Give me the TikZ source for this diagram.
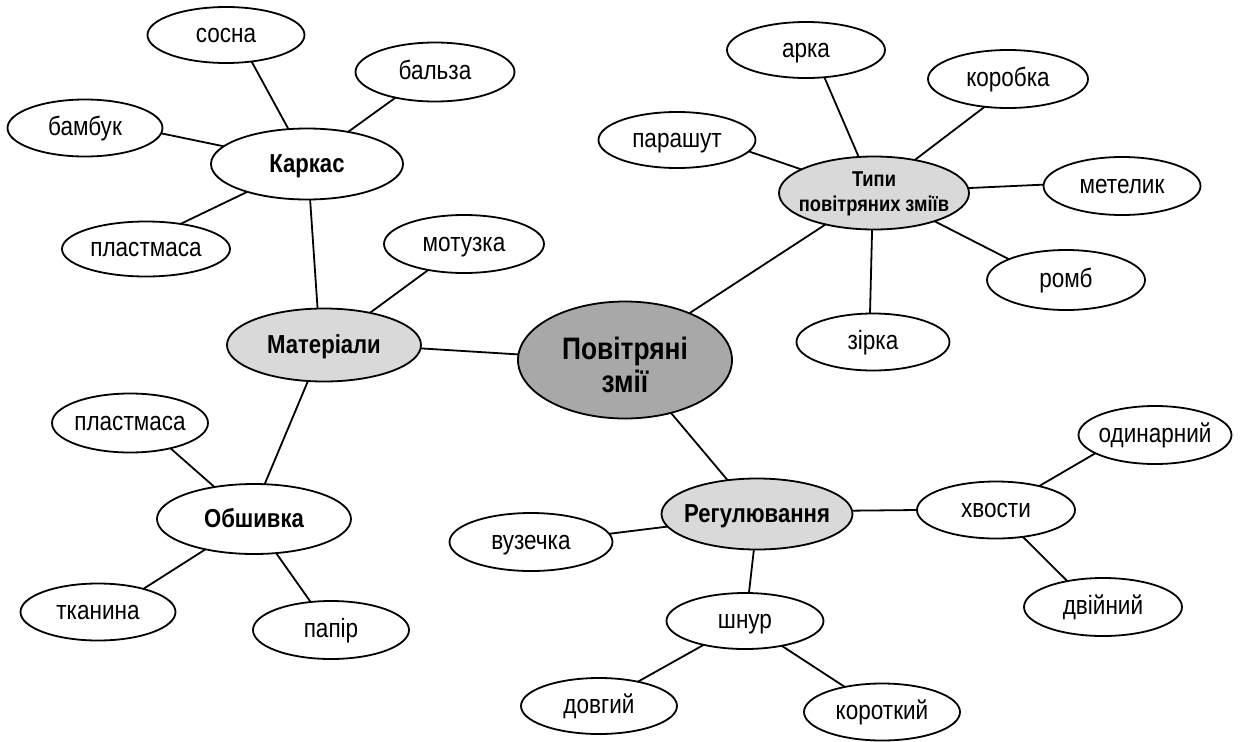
\documentclass[tikz,border=0pt]{standalone}
\usepackage{fontspec}
\setmainfont[FakeStretch=0.85]{Liberation Sans}
\usetikzlibrary{shapes.geometric}
\definecolor{centralgray}{RGB}{168,168,168}
\definecolor{subgray}{RGB}{217,217,217}
\newcommand{\zw}[1]{\makebox[0pt]{\raisebox{-7pt}[0pt][0pt]{#1}}}
\newcommand{\zb}[1]{\makebox[0pt]{\raisebox{-8pt}[0pt][0pt]{#1}}}
\newcommand{\zwtwo}[2]{\makebox[0pt]{\raisebox{#1}[\height][\depth]{#2}}}
\begin{document}
\begin{tikzpicture}[x=1pt,y=-1pt,
  bub/.style={ellipse,draw,line width=1.8pt,inner sep=0pt,outer sep=0pt,fill=white,
    font=\fontsize{26.5}{30}\selectfont},
  boldlbl/.style={font=\fontsize{26}{30}\selectfont\bfseries},
  sub/.style={bub,fill=subgray,boldlbl},
  hub/.style={bub,fill=centralgray,font=\fontsize{31}{33}\selectfont\bfseries},
  sz/.style 2 args={minimum width=#1pt,minimum height=#2pt},
  conn/.style={line width=1.8pt}]
\useasboundingbox[fill=white] (0,0) rectangle (1243,742);

% centre
\node[hub,sz={214}{117}] (pov) at (625,360) {\zwtwo{-9pt}{\begin{tabular}{@{}c@{}}Повітряні\\змії\end{tabular}}};

% Materials branch
\node[sub,sz={194}{73}] (mat) at (324,345) {\zb{Матеріали}};
\node[bub,boldlbl,sz={192}{71}] (kark) at (307,164) {\zb{Каркас}};
\node[bub,sz={157}{56}] (sosna) at (226,35) {\zw{сосна}};
\node[bub,sz={159}{59}] (bal) at (435,72) {\zw{бальза}};
\node[bub,sz={155}{57}] (bam) at (85,128) {\zw{бамбук}};
\node[bub,sz={168}{55}] (pla) at (146,249) {\zw{пластмаса}};
\node[bub,sz={160}{58}] (mot) at (464,244) {\zw{мотузка}};
\node[bub,boldlbl,sz={194}{70}] (obsh) at (254,519) {\zb{Обшивка}};
\node[bub,sz={156}{59}] (plb) at (130,423) {\zw{пластмаса}};
\node[bub,sz={155}{57}] (tkan) at (98,612) {\zw{тканина}};
\node[bub,sz={156}{58}] (pap) at (331,630) {\zw{папір}};

% Types branch
\node[sub,sz={190}{73},font=\fontsize{21.5}{25}\selectfont\bfseries] (typy) at (874,193) {\zwtwo{-1pt}{\begin{tabular}{@{}c@{}}Типи\\повітряних зміїв\end{tabular}}};
\node[bub,sz={158}{56}] (arka) at (806,50) {\zw{арка}};
\node[bub,sz={157}{56}] (para) at (677,140) {\zw{парашут}};
\node[bub,sz={160}{58}] (korob) at (1008,79) {\zw{коробка}};
\node[bub,sz={157}{58}] (met) at (1122,186) {\zw{метелик}};
\node[bub,sz={158}{60}] (romb) at (1066,280) {\zw{ромб}};
\node[bub,sz={153}{57}] (zir) at (873,342) {\zw{зірка}};

% Regulation branch
\node[sub,sz={191}{71}] (reg) at (757,514) {\zb{Регулювання}};
\node[bub,sz={163}{58}] (vuz) at (531,542) {\zw{вузечка}};
\node[bub,sz={158}{57}] (hv) at (996,510) {\zw{хвости}};
\node[bub,sz={153}{58}] (odyn) at (1155,435) {\zw{одинарний}};
\node[bub,sz={158}{58}] (dvi) at (1103,607) {\zw{двійний}};
\node[bub,sz={157}{56}] (shnur) at (745,621) {\zw{шнур}};
\node[bub,sz={156}{56}] (dov) at (599,706) {\zw{довгий}};
\node[bub,sz={156}{57}] (korot) at (882,712) {\zw{короткий}};

% connectors
\draw[conn] (sosna.-46) -- (kark.118);
\draw[conn] (bam.-4) -- (kark.168);
\draw[conn] (pla.36) -- (kark.205);
\draw[conn] (bal.213) -- (kark.38);
\draw[conn] (kark.-85) -- (mat.100);
\draw[conn] (mot.216) -- (mat.35);
\draw[conn] (mat.-2) -- (pov.177);
\draw[conn] (mat.-114) -- (obsh.73);
\draw[conn] (plb.-32) -- (obsh.141);
\draw[conn] (obsh.212) -- (tkan.27);
\draw[conn] (obsh.-57) -- (pap.126);
\draw[conn] (pov.36) -- (typy.213);
\draw[conn] (arka.-56) -- (typy.113);
\draw[conn] (para.-9) -- (typy.162);
\draw[conn] (typy.39) -- (korob.230);
\draw[conn] (typy.3) -- (met.179);
\draw[conn] (typy.-25) -- (romb.160);
\draw[conn] (typy.-93) -- (zir.96);
\draw[conn] (pov.-49) -- (reg.131);
\draw[conn] (vuz.6) -- (reg.188);
\draw[conn] (reg.2) -- (hv.180);
\draw[conn] (reg.-95) -- (shnur.82);
\draw[conn] (hv.29) -- (odyn.197);
\draw[conn] (hv.-45) -- (dvi.144);
\draw[conn] (shnur.210) -- (dov.32);
\draw[conn] (shnur.-34) -- (korot.146);
\end{tikzpicture}
\end{document}
